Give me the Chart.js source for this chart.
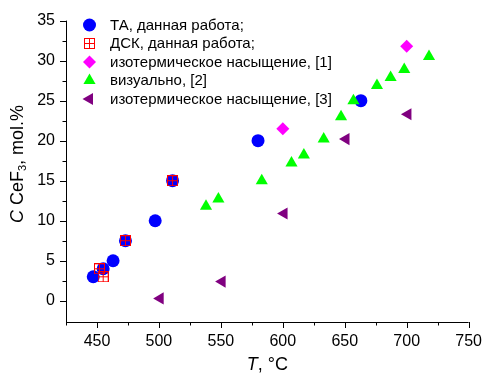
<!DOCTYPE html>
<html><head><meta charset="utf-8">
<script src="https://cdn.jsdelivr.net/npm/chart.js@4"></script>
<style>html,body{margin:0;padding:0;background:#fff}#wrap{width:492px;height:382px;position:relative}</style>
</head><body><div id="wrap"><canvas id="c" width="492" height="382"></canvas></div>
<script>
// ---- data ----
const taT  = [447, 455, 463, 473, 497, 511, 580, 663];
const taC  = [3, 4, 5, 7.5, 10, 15, 20, 25];
const dscT = [452, 455, 473, 511];
const dscC = [4, 3, 7.5, 15];
const iso1T = [600, 700];
const iso1C = [21.5, 31.8];
const visT = [538, 548, 583, 607, 617, 633, 647, 657, 676, 687, 698, 718];
const visC = [11.8, 12.7, 15.0, 17.2, 18.2, 20.2, 23.0, 25.0, 26.9, 27.9, 28.9, 30.5];
const iso3T = [501, 551, 601, 651, 701];
const iso3C = [0.3, 2.4, 10.9, 20.2, 23.3];
const xTicks = [450, 500, 550, 600, 650, 700, 750];
const yTicks = [0, 5, 10, 15, 20, 25, 30, 35];
const xMinor = [425, 475, 525, 575, 625, 675, 725];
const yMinor = [2.5, 7.5, 12.5, 17.5, 22.5, 27.5, 32.5];
const names = ['ТА, данная работа;', 'ДСК, данная работа;', 'изотермическое насыщение, [1]', 'визуально, [2]', 'изотермическое насыщение, [3]'];

const FONT = '"Liberation Sans", Arial, sans-serif';
const pts = (xs, ys) => xs.map((x, i) => ({x: x, y: ys[i]}));

// crossed square marker
const sq = document.createElement('canvas');
sq.width = 11; sq.height = 11;
(function(){
  const g = sq.getContext('2d');
  g.strokeStyle = '#ff0000'; g.lineWidth = 1;
  g.strokeRect(0.5, 0.5, 10, 10);
  g.beginPath(); g.moveTo(5.5, 0.5); g.lineTo(5.5, 10.5); g.moveTo(0.5, 5.5); g.lineTo(10.5, 5.5); g.stroke();
})();

const datasets = [
  {label: names[0], data: pts(taT, taC), pointStyle: 'circle', pointRadius: 6.5, backgroundColor: '#0000ff', borderColor: '#0000ff', borderWidth: 0, order: 5},
  {label: names[1], data: pts(dscT, dscC), pointStyle: sq, pointRadius: 5.5, backgroundColor: '#ff0000', borderColor: '#ff0000', borderWidth: 0, order: 4},
  {label: names[2], data: pts(iso1T, iso1C), pointStyle: 'rectRot', pointRadius: 6.5, backgroundColor: '#ff00ff', borderColor: '#ff00ff', borderWidth: 0, order: 3},
  {label: names[3], data: pts(visT, visC), pointStyle: 'triangle', pointRadius: 7, backgroundColor: '#00ff00', borderColor: '#00ff00', borderWidth: 0, order: 2},
  {label: names[4], data: pts(iso3T, iso3C), pointStyle: 'triangle', pointRotation: -90, pointRadius: 7, backgroundColor: '#800080', borderColor: '#800080', borderWidth: 0, order: 1}
];

const deco = {
  id: 'deco',
  afterDraw(chart) {
    const ctx = chart.ctx, xs = chart.scales.x, ys = chart.scales.y, a = chart.chartArea;
    ctx.save();
    ctx.strokeStyle = '#000'; ctx.lineWidth = 1;
    // axis lines
    ctx.beginPath();
    ctx.moveTo(a.left + 0.5, a.top); ctx.lineTo(a.left + 0.5, a.bottom + 0.5);
    ctx.lineTo(a.right, a.bottom + 0.5);
    // major ticks
    xTicks.forEach(v => { const p = Math.round(xs.getPixelForValue(v)) + 0.5; ctx.moveTo(p, a.bottom); ctx.lineTo(p, a.bottom + 6); });
    yTicks.forEach(v => { const p = Math.round(ys.getPixelForValue(v)) + 0.5; ctx.moveTo(a.left, p); ctx.lineTo(a.left - 6, p); });
    xMinor.forEach(v => { const p = Math.round(xs.getPixelForValue(v)) + 0.5; ctx.moveTo(p, a.bottom); ctx.lineTo(p, a.bottom + 3.5); });
    yMinor.forEach(v => { const p = Math.round(ys.getPixelForValue(v)) + 0.5; ctx.moveTo(a.left, p); ctx.lineTo(a.left - 3.5, p); });
    ctx.stroke();

    // axis titles
    ctx.fillStyle = '#000';
    ctx.textBaseline = 'middle';
    // x title: "T, °C"
    const tx = (a.left + a.right) / 2, ty = 365;
    ctx.font = 'italic 18px ' + FONT;
    const wT = ctx.measureText('T').width;
    ctx.font = '18px ' + FONT;
    const rest = ', °C';
    const wR = ctx.measureText(rest).width;
    let sx = tx - (wT + wR) / 2;
    ctx.textAlign = 'left';
    ctx.font = 'italic 18px ' + FONT; ctx.fillText('T', sx, ty);
    ctx.font = '18px ' + FONT; ctx.fillText(rest, sx + wT, ty);

    // y title: "C CeF3, mol.%"
    ctx.save();
    ctx.translate(18, 164);
    ctx.rotate(-Math.PI / 2);
    const parts = [
      {t: 'C', f: 'italic 18px ', dy: 0},
      {t: ' CeF', f: '18px ', dy: 0},
      {t: '3', f: '11px ', dy: 5},
      {t: ', mol.%', f: '18px ', dy: 0}
    ];
    let tot = 0;
    parts.forEach(p => { ctx.font = p.f + FONT; p.w = ctx.measureText(p.t).width; tot += p.w; });
    let px = -tot / 2;
    parts.forEach(p => { ctx.font = p.f + FONT; ctx.fillText(p.t, px, p.dy); px += p.w; });
    ctx.restore();

    // legend
    const lx = 89.5, ly0 = 25, dy = 18.5;
    chart.data.datasets.forEach((ds, i) => {
      const y = ly0 + i * dy;
      ctx.fillStyle = ds.backgroundColor;
      ctx.strokeStyle = ds.borderColor;
      ctx.lineWidth = 0;
      Chart.helpers.drawPoint(ctx, {
        pointStyle: ds.pointStyle, radius: ds.pointRadius, rotation: ds.pointRotation || 0, borderWidth: 0
      }, lx, y);
      ctx.fillStyle = '#000';
      ctx.font = '15px ' + FONT;
      ctx.textAlign = 'left';
      ctx.fillText(ds.label, 110, y + 0.5);
    });
    ctx.restore();
  }
};

new Chart(document.getElementById('c'), {
  type: 'scatter',
  data: {datasets: datasets},
  options: {
    responsive: false, animation: false,
    layout: {padding: {left: 0, right: 15, top: 18, bottom: 0}},
    plugins: {legend: {display: false}, tooltip: {enabled: false}},
    elements: {point: {borderWidth: 0}},
    scales: {
      x: {
        type: 'linear', min: 425, max: 750,
        afterBuildTicks: s => { s.ticks = xTicks.map(v => ({value: v})); },
        afterFit: s => { s.height = 60; },
        grid: {display: false, drawTicks: false},
        border: {display: false},
        ticks: {font: {size: 16, family: FONT}, color: '#000', padding: 10, maxRotation: 0}
      },
      y: {
        type: 'linear', min: -2.65, max: 35,
        afterBuildTicks: s => { s.ticks = yTicks.map(v => ({value: v})); },
        afterFit: s => { s.width = 66; },
        grid: {display: false, drawTicks: false},
        border: {display: false},
        ticks: {font: {size: 16, family: FONT}, color: '#000', padding: 11}
      }
    }
  },
  plugins: [deco]
});
</script></body></html>
